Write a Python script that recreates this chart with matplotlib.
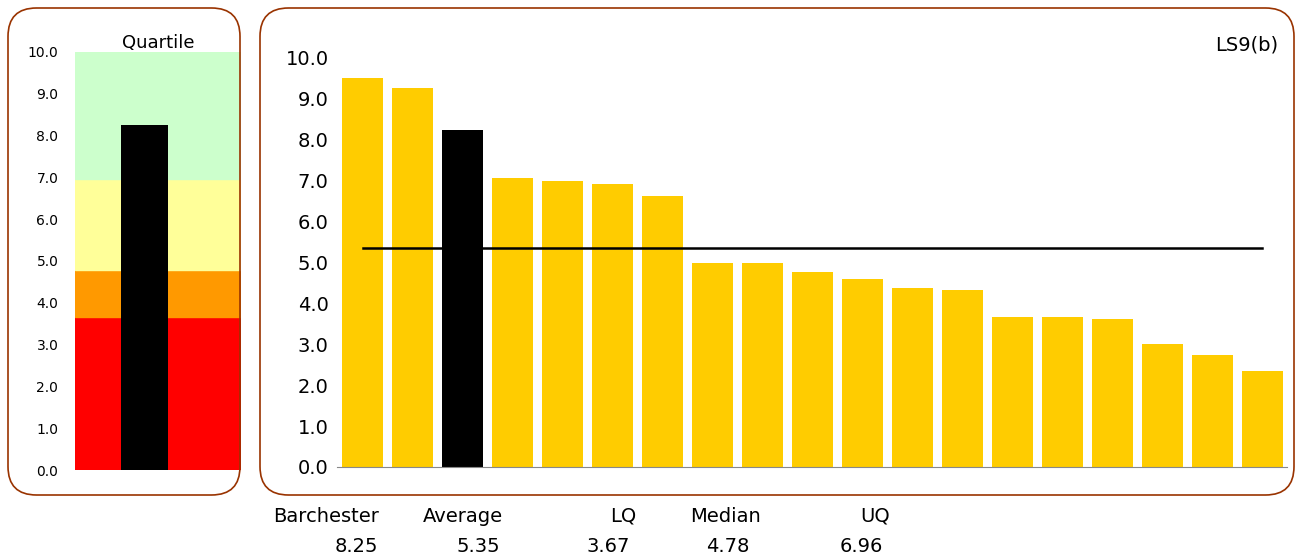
import matplotlib.pyplot as plt
from matplotlib.patches import FancyBboxPatch

# data
values = [9.5, 9.27, 8.25, 7.07, 7.0, 6.92, 6.63, 5.0, 5.0, 4.77, 4.6, 4.38, 4.33, 3.67, 3.67, 3.63, 3.0, 2.73, 2.35]
highlight = 2
barchester = 8.25
average = 5.35
lq = 3.67
median = 4.78
uq = 6.96
stat_names = ["Barchester", "Average", "LQ", "Median", "UQ"]
stat_values = [barchester, average, lq, median, uq]
yticks = [0, 1, 2, 3, 4, 5, 6, 7, 8, 9, 10]

W, H = 1295, 559
fig = plt.figure(figsize=(W / 100, H / 100), dpi=100)
plt.rcParams['font.family'] = ['DejaVu Sans']

def box(x0, y0, x1, y1):
    p = FancyBboxPatch((x0 / W, 1 - y1 / H), (x1 - x0) / W, (y1 - y0) / H,
                       boxstyle="round,pad=0,rounding_size=0.022", transform=fig.transFigure,
                       fill=False, edgecolor="#993300", linewidth=1.2, mutation_aspect=W / H)
    fig.patches.append(p)

box(8, 8, 240, 495)
box(260, 8, 1294, 495)

def axes(x0, y0, x1, y1):
    return fig.add_axes([x0 / W, 1 - y1 / H, (x1 - x0) / W, (y1 - y0) / H])

# quartile panel
ax1 = axes(75, 52, 241, 470)
ax1.axhspan(0, lq, color="#FF0000")
ax1.axhspan(lq, median, color="#FF9900")
ax1.axhspan(median, uq, color="#FFFF99")
ax1.axhspan(uq, 10, color="#CCFFCC")
ax1.bar([-0.16], [barchester], width=0.57, color="black")
ax1.set_xlim(-1, 1)
ax1.set_ylim(0, 10)
ax1.set_yticks(yticks)
ax1.set_yticklabels([f"{v:.1f}" for v in yticks], fontsize=10)
ax1.set_xticks([])
for s in ax1.spines.values():
    s.set_visible(False)
ax1.tick_params(axis="y", length=0, pad=12)
ax1.set_title("Quartile", fontsize=13, pad=3)

# main panel
ax2 = axes(337, 58, 1287, 467)
x = list(range(len(values)))
colors = ["black" if i == highlight else "#FFCC00" for i in x]
ax2.bar(x, values, width=0.82, color=colors)
ax2.plot([0.02, len(values) - 1], [average, average], color="black", linewidth=1.8)
ax2.set_xlim(-0.5, len(values) - 0.5)
ax2.set_ylim(0, 10)
ax2.set_yticks(yticks)
ax2.set_yticklabels([f"{v:.1f}" for v in yticks], fontsize=14)
ax2.set_xticks([])
for s in ["top", "right", "left"]:
    ax2.spines[s].set_visible(False)
ax2.spines["bottom"].set_color("#888888")
ax2.tick_params(axis="y", length=0, pad=6)
fig.text(1278 / W, 1 - 45 / H, "LS9(b)", ha="right", va="center", fontsize=14)

# stats row
name_x = [326, 463, 623, 726, 875]
value_x = [356, 478, 608, 728, 861]
for nx, vx, n, v in zip(name_x, value_x, stat_names, stat_values):
    fig.text(nx / W, 1 - 516 / H, n, ha="center", va="center", fontsize=14)
    fig.text(vx / W, 1 - 547 / H, f"{v:.2f}", ha="center", va="center", fontsize=14)

fig.savefig("out.png", dpi=100)
